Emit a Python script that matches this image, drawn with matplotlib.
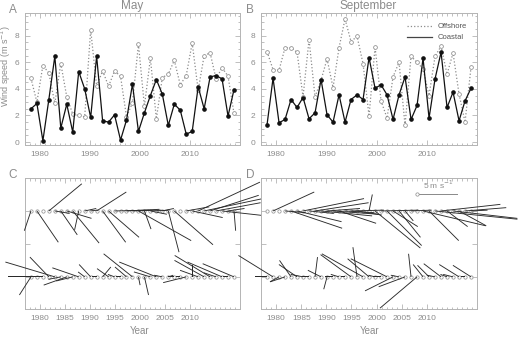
import numpy as np
import matplotlib
matplotlib.use("Agg")
import matplotlib.pyplot as plt
from matplotlib.lines import Line2D

years = np.arange(1979, 2014)

# monthly mean wind speed (m/s)
may_offshore = [4.8, 3.0, 5.75, 5.2, 2.9, 5.9, 3.4, 2.1, 2.0, 1.9, 8.45, 4.2, 5.35, 4.2, 5.35,
                4.95, 1.9, 2.95, 7.35, 2.7, 6.3, 1.75, 4.85, 5.1, 6.15, 4.3, 5.0, 7.45, 3.9, 6.5,
                6.7, 4.75, 5.6, 4.95, 2.15]
may_coastal = [2.5, 2.9, 0.1, 3.2, 6.45, 1.05, 2.85, 0.75, 5.3, 4.0, 1.85, 6.45, 1.6, 1.5, 2.05,
               0.15, 1.65, 4.35, 0.8, 2.2, 3.5, 4.7, 3.6, 1.25, 2.85, 2.4, 0.6, 0.8, 4.15, 2.5,
               4.9, 5.0, 4.75, 1.95, 3.95]
sep_offshore = [6.8, 5.45, 5.4, 7.1, 7.1, 6.75, 3.4, 7.7, 3.4, 4.65, 6.25, 4.1, 7.1, 9.25, 7.55,
                7.95, 5.9, 1.95, 7.15, 3.1, 1.8, 4.9, 6.0, 1.25, 6.45, 6.0, 5.5, 3.5, 6.45, 7.2,
                5.1, 6.7, 3.6, 1.5, 5.65]
sep_coastal = [1.3, 4.8, 1.45, 1.7, 3.2, 2.6, 3.35, 1.75, 2.2, 4.7, 2.05, 1.5, 3.55, 1.5, 3.2,
               3.55, 3.2, 6.35, 4.05, 4.3, 3.55, 1.7, 3.55, 4.9, 1.7, 2.75, 6.3, 1.8, 4.75, 6.75,
               2.6, 3.75, 1.6, 3.1, 4.05]

# wind vectors (u east, v north; m/s)
may_off_u = [-0.8, 2.6, 0.6, 4.0, 1.8, 2.0, 3.0, 3.2, -0.5, 1.4, 0.8, 3.6, 2.8, 3.7, 4.2,
             3.8, 4.0, 3.5, 6.4, 0.8, 2.0, 1.5, 1.4, 1.3, 4.7, 0.6, 2.8, 3.7, 7.5, 7.6,
             5.9, 5.4, 5.4, 2.0, 0.2]
may_off_v = [-2.4, -3.8, 0.0, 3.3, -0.3, -2.9, -0.9, -3.9, -2.3, 0.3, 0.1, 2.3, -3.8, -3.2, 0.1,
             0.0, 0.2, 0.1, -3.6, -2.2, -0.4, 0.1, 0.3, -5.0, -4.1, 0.0, 0.5, -0.8, 3.5, 1.6,
             1.9, 1.0, -0.6, 0.3, -2.4]
may_coa_u = [-1.4, -0.6, -4.2, -2.3, -6.0, -1.5, -2.8, -2.0, -3.2, -0.8, -1.4, -0.6, 1.0, -1.4, -0.8,
             -0.6, -1.4, -3.5, 0.2, 0.5, -2.0, -4.5, -1.0, 0.6, -0.8, -0.5, -2.8, 0.0, -2.2, -3.6,
             -4.3, -1.5, -4.2, -0.6, -3.8]
may_coa_v = [-2.2, 0.0, 0.0, 2.4, 1.8, -0.3, -1.0, -0.5, 1.1, 0.6, 1.5, 0.0, 1.2, 1.0, 0.3,
             0.0, 1.2, 2.8, -1.0, -2.2, 0.6, 1.8, 0.2, 0.2, 0.0, 0.0, -0.7, 1.4, 0.8, 2.0,
             2.6, 0.5, 1.8, 0.0, 1.6]
sep_off_u = [0.5, 5.0, 1.5, 2.5, 6.2, 5.4, 7.4, 3.0, 6.5, 6.2, 4.0, 5.5, 4.5, 3.5, 4.0,
             3.0, 5.0, 0.4, 5.5, 4.5, 4.2, 3.0, 2.6, 1.0, 2.5, 1.5, 7.6, 3.6, 10.0, 7.2,
             2.5, 7.8, 3.3, 5.0, 2.0]
sep_off_v = [0.0, 2.3, 0.0, -0.2, -2.1, -1.3, 1.5, -0.3, 1.0, -0.6, 0.3, -0.4, -1.5, -0.2, 0.1,
             -0.5, 0.0, 2.0, -4.5, 0.1, -4.2, -1.9, -3.2, -1.2, 0.1, 0.0, -1.8, -3.6, -1.0, 0.8,
             -1.9, -0.9, -1.8, 0.4, 0.1]
sep_coa_u = [-1.5, -4.2, -1.1, -1.8, -1.4, -2.2, -1.5, -0.8, 0.3, -1.6, -0.4, -1.0, -1.0, -0.5, -3.7,
             -0.5, -5.0, -2.6, -0.8, -1.0, -4.4, -3.4, -1.0, -3.2, -0.3, -4.5, -1.2, -1.4, -1.0, -2.1,
             -0.8, -1.2, -2.4, -0.5, -2.2]
sep_coa_v = [0.0, 2.6, -0.6, -0.6, 2.0, 1.5, 0.3, 0.0, 2.4, 0.8, -1.5, 0.0, 0.3, 0.0, 2.7,
             3.6, 2.8, 2.2, 0.2, 0.0, 2.2, -1.7, 0.2, -1.2, 2.8, -3.8, 1.5, 1.4, 0.2, 1.6,
             0.3, 0.3, 1.5, 0.0, 1.4]

grey = '#8c8c8c'
frame = '#b4b4b4'
plt.rcParams['font.family'] = ['Liberation Sans', 'DejaVu Sans']

fig = plt.figure(figsize=(5.2, 3.37), dpi=100)
axA = fig.add_axes([0.048, 0.5697, 0.4135, 0.3917])
axB = fig.add_axes([0.502, 0.5697, 0.4154, 0.3917])
axC = fig.add_axes([0.048, 0.0831, 0.4135, 0.3887])
axD = fig.add_axes([0.502, 0.0831, 0.4154, 0.3887])

xlim = (1978, 2014)
# tick labels sit on their own (1977-2020) scale in the original figure
lab_lim = (1977, 2020)


def style(ax, labels):
    ax.set_xlim(xlim)
    ax.set_xticks(np.interp(labels, lab_lim, xlim))
    ax.set_xticklabels([str(l) for l in labels])
    ax.set_xticks(np.interp(np.arange(1977, 2021), lab_lim, xlim), minor=True)
    for s in ax.spines.values():
        s.set_color(frame)
        s.set_linewidth(0.7)
    ax.tick_params(which='both', direction='in', top=True, right=True, color=frame,
                   labelcolor=grey, labelsize=6, width=0.6, pad=4)
    ax.tick_params(which='major', length=3.5)
    ax.tick_params(which='minor', length=1.8)


def series(ax, off, coa):
    ax.plot(years, off, ':', color=grey, lw=0.9, marker='o', ms=2.7, mfc='white',
            mec=grey, mew=0.55, zorder=2)
    ax.plot(years, coa, '-', color='#111111', lw=0.9, marker='o', ms=2.3, mfc='#111111',
            mec='#111111', zorder=3)
    ax.set_ylim(-0.22, 9.7)
    ax.set_yticks([0, 2, 4, 6, 8])
    ax.set_yticks(np.arange(0, 9.6, 0.5), minor=True)


def sticks(ax, base, u, v):
    ax.plot(years, np.full(len(years), base), 'o', ms=2.4, mfc='white', mec=grey, mew=0.5,
            zorder=1, clip_on=False)
    q = ax.quiver(years, np.full(len(years), base), u, v, angles='uv', scale_units='y', scale=1,
                  headwidth=0, headlength=0, headaxislength=0, minlength=0,
                  units='dots', width=0.9, color='#2a2a2a', zorder=3)
    q.set_clip_on(False)


series(axA, may_offshore, may_coastal)
series(axB, sep_offshore, sep_coastal)
style(axA, [1980, 1990, 2000, 2010])
style(axB, [1980, 1990, 2000, 2010])

for ax, su, sv, cu, cv in [(axC, may_off_u, may_off_v, may_coa_u, may_coa_v),
                           (axD, sep_off_u, sep_off_v, sep_coa_u, sep_coa_v)]:
    sticks(ax, 0, su, sv)
    sticks(ax, -8, cu, cv)
    ax.set_ylim(-11.9, 4)
    ax.set_yticks([-8, -4, 0])
    ax.set_yticklabels([])
    style(ax, [1980, 1985, 1990, 1995, 2000, 2005, 2010])
    ax.tick_params(axis='y', which='minor', left=False, right=False)

# scale arrow
axD.plot([2004], [2], 'o', ms=2.4, mfc='white', mec=grey, mew=0.5)
axD.quiver([2004], [2], [5], [0], angles='uv', scale_units='y', scale=1,
           headwidth=0, headlength=0, headaxislength=0, minlength=0,
           units='dots', width=1.0, color=grey)
axD.annotate('5 m s$^{-1}$', xy=(2004, 2), xytext=(15, 2.5), textcoords='offset points',
             ha='center', va='bottom', fontsize=6, color=grey)

axB.legend([Line2D([], [], ls=':', color=grey, lw=0.9),
            Line2D([], [], ls='-', color='#444444', lw=0.9)],
           ['Offshore', 'Coastal'], loc='upper right', frameon=False, fontsize=5.5,
           handlelength=3.2, labelcolor='#555555', borderaxespad=0.9, labelspacing=0.5)

W, H = 520, 337
def ftext(x, y, s, **kw):
    fig.text(x / W, 1 - y / H, s, color=grey, ha='center', va='center', **kw)

ftext(13, 10, 'A', fontsize=8.5)
ftext(250, 10, 'B', fontsize=8.5)
ftext(13, 175, 'C', fontsize=8.5)
ftext(250, 175, 'D', fontsize=8.5)
ftext(132, 6, 'May', fontsize=8.5)
ftext(368, 6, 'September', fontsize=8.5)
ftext(6, 66, 'Wind speed (m s$^{-1}$)', fontsize=6.5, rotation=90)
ftext(140, 331, 'Year', fontsize=7)
ftext(370, 331, 'Year', fontsize=7)

fig.savefig('out.png', dpi=100)
